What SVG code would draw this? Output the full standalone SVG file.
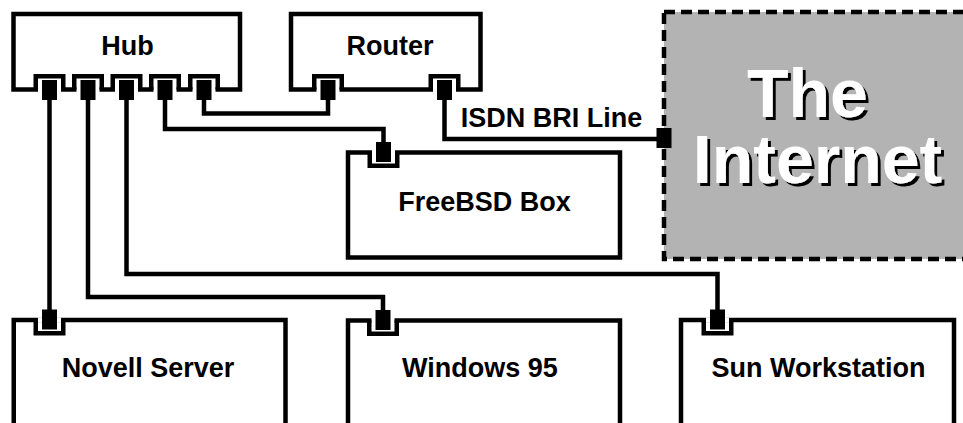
<svg xmlns="http://www.w3.org/2000/svg" xmlns:xlink="http://www.w3.org/1999/xlink" width="963" height="423" viewBox="0 0 963 423">
<style>
.box{fill:#fff;stroke:#000;stroke-width:4.5}
.lbl{font-family:"Liberation Sans",Arial,Helvetica,sans-serif;font-weight:bold;font-size:27px;fill:#000;text-anchor:middle}
.wire{fill:none;stroke:#000;stroke-width:4.5;stroke-linejoin:miter}
.big{font-family:"Liberation Sans",Arial,Helvetica,sans-serif;font-weight:bold;font-size:68px;text-anchor:middle;fill:#fff;filter:url(#shadow)}
</style>
<defs>
<filter id="shadow" x="-10%" y="-20%" width="130%" height="150%">
<feFlood flood-color="#000" result="k"/>
<feComposite in="k" in2="SourceAlpha" operator="in" result="s"/>
<feOffset in="s" dx="3" dy="3" result="o"/>
<feMerge><feMergeNode in="o"/><feMergeNode in="SourceGraphic"/></feMerge>
</filter>
<g id="port">
<rect x="-11.5" y="-2.6" width="23" height="5.2" fill="#fff"/>
<path d="M-13.75,0 V-13.25 H13.75 V0" fill="none" stroke="#000" stroke-width="4.5"/>
<rect x="-7.5" y="-9.5" width="15" height="20" fill="#000"/>
</g>
</defs>
<rect width="963" height="423" fill="#fff"/>
<g id="internet">
<rect x="664" y="12" width="320" height="247" fill="#b3b3b3" stroke="#000" stroke-width="4.5" stroke-dasharray="11,6"/>
<text class="big" x="807.5" y="117">The</text>
<text class="big" x="817.5" y="183">Internet</text>
</g>
<g id="hub">
<rect class="box" x="13.5" y="14" width="226.5" height="75.5"/>
<text class="lbl" x="127.5" y="55">Hub</text>
</g>
<g id="router">
<rect class="box" x="291" y="14" width="189.5" height="75.5"/>
<text class="lbl" x="390" y="54.5">Router</text>
</g>
<g id="freebsd">
<rect class="box" x="348" y="152.5" width="272" height="105"/>
<text class="lbl" x="484.5" y="211">FreeBSD Box</text>
</g>
<g id="novell">
<rect class="box" x="13.75" y="320" width="271.75" height="130"/>
<text class="lbl" x="148" y="377">Novell Server</text>
</g>
<g id="windows">
<rect class="box" x="348" y="320.5" width="272" height="130"/>
<text class="lbl" x="480" y="377.3">Windows 95</text>
</g>
<g id="sun">
<rect class="box" x="681" y="320" width="273" height="130"/>
<text class="lbl" x="818.5" y="377.3">Sun Workstation</text>
</g>
<g id="connectors">
<path class="wire" d="M49.5,100 V310"/>
<path class="wire" d="M88,100 V297 H383 V310"/>
<path class="wire" d="M126.5,100 V274 H717.5 V310"/>
<path class="wire" d="M165,100 V129 H383.5 V142"/>
<path class="wire" d="M204,100 V113.5 H328 V100"/>
<path class="wire" d="M444.5,100 V139 H657"/>
<text class="lbl" x="460.7" y="127.3" style="text-anchor:start">ISDN BRI Line</text>
</g>
<g id="ports">
<use xlink:href="#port" transform="translate(49.5,89.5)"/>
<use xlink:href="#port" transform="translate(88,89.5)"/>
<use xlink:href="#port" transform="translate(126.5,89.5)"/>
<use xlink:href="#port" transform="translate(165,89.5)"/>
<use xlink:href="#port" transform="translate(204,89.5)"/>
<use xlink:href="#port" transform="translate(328,89.5)"/>
<use xlink:href="#port" transform="translate(444.5,89.5)"/>
<use xlink:href="#port" transform="translate(383.5,152.5) scale(1,-1)"/>
<use xlink:href="#port" transform="translate(49.5,320) scale(1,-1)"/>
<use xlink:href="#port" transform="translate(383,320.5) scale(1,-1)"/>
<use xlink:href="#port" transform="translate(717.5,320) scale(1,-1)"/>
<rect x="656.5" y="128" width="15" height="20" fill="#000"/>
</g>
</svg>
